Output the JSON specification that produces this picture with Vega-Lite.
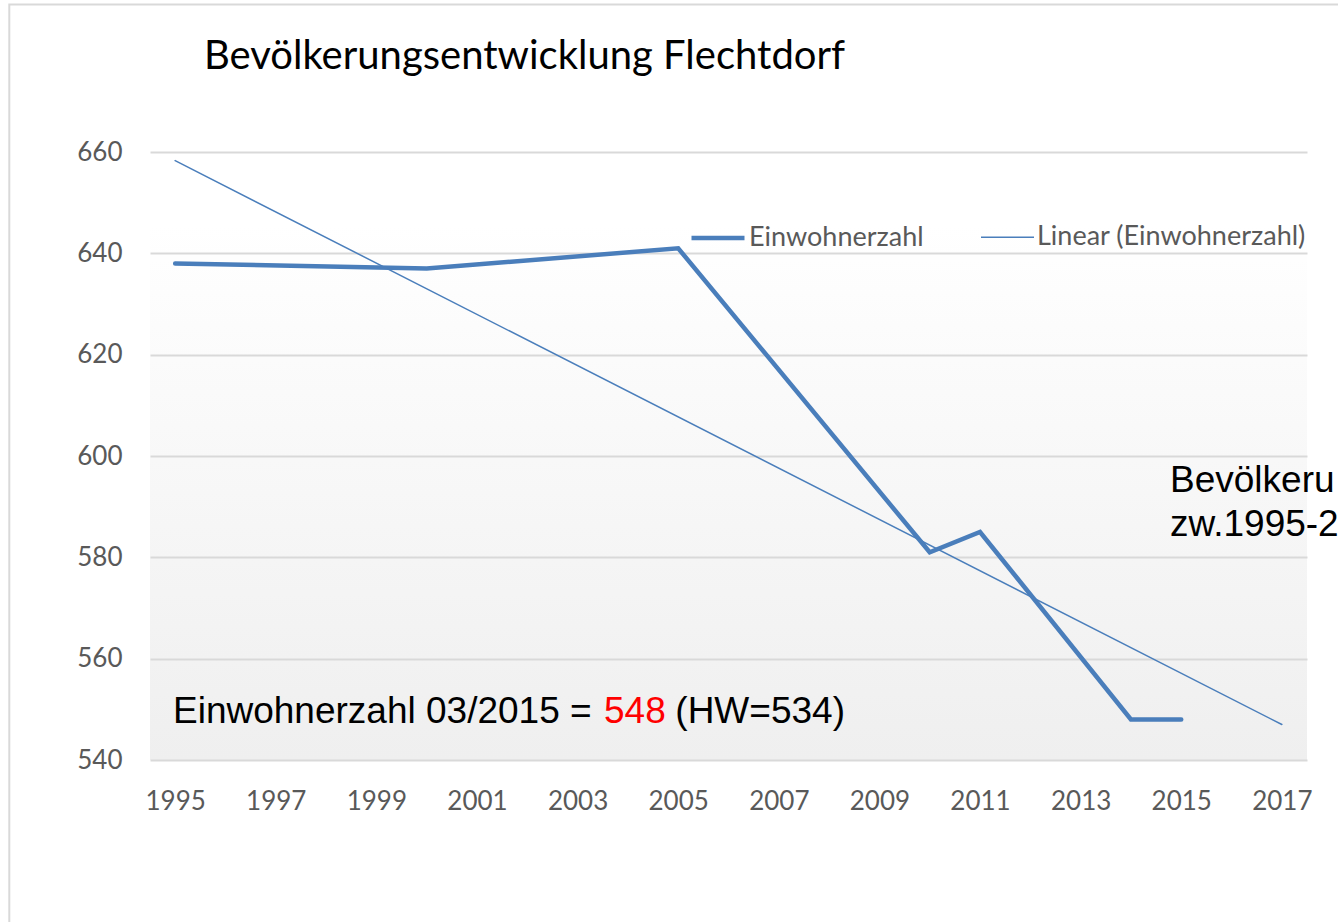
{
  "$schema": "https://vega.github.io/schema/vega-lite/v6.json",
  "width": 1157,
  "height": 608,
  "autosize": {"type": "none"},
  "padding": {"left": 150, "top": 152, "right": 31, "bottom": 162},
  "background": "#ffffff",
  "title": {
    "text": "Bevölkerungsentwicklung Flechtdorf",
    "anchor": "start",
    "frame": "group",
    "dx": 54,
    "offset": -105,
    "baseline": "alphabetic",
    "font": "Lato",
    "fontSize": 40,
    "fontWeight": "normal",
    "color": "#000000"
  },
  "config": {
    "view": {
      "stroke": null,
      "fill": {
        "gradient": "linear",
        "x1": 0, "y1": 0, "x2": 0, "y2": 1,
        "stops": [
          {"offset": 0, "color": "#ffffff"},
          {"offset": 0.12, "color": "#ffffff"},
          {"offset": 1, "color": "#efefef"}
        ]
      }
    },
    "axis": {
      "labelFont": "Lato",
      "labelFontSize": 26,
      "labelColor": "#595959",
      "domain": false,
      "ticks": false,
      "title": null
    },
    "legend": {
      "labelFont": "Lato",
      "labelFontSize": 27,
      "labelColor": "#595959",
      "labelLimit": 0
    }
  },
  "datasets": {
    "series": [
      {"year": 1995, "value": 638, "series": "Einwohnerzahl"},
      {"year": 2000, "value": 637, "series": "Einwohnerzahl"},
      {"year": 2005, "value": 641, "series": "Einwohnerzahl"},
      {"year": 2010, "value": 581, "series": "Einwohnerzahl"},
      {"year": 2011, "value": 585, "series": "Einwohnerzahl"},
      {"year": 2014, "value": 548, "series": "Einwohnerzahl"},
      {"year": 2015, "value": 548, "series": "Einwohnerzahl"},
      {"year": 1995, "value": 658.3, "series": "Linear (Einwohnerzahl)"},
      {"year": 2017, "value": 547, "series": "Linear (Einwohnerzahl)"}
    ],
    "one": [{}]
  },
  "layer": [
    {
      "data": {"name": "one"},
      "mark": {"type": "rect", "fill": null, "stroke": "#d9d9d9", "strokeWidth": 2, "clip": false},
      "encoding": {
        "x": {"datum": 1991.703, "type": "quantitative", "scale": {"domain": [1994.5, 2017.5], "nice": false, "zero": false}},
        "x2": {"datum": 2030},
        "y": {"datum": 689.1, "type": "quantitative", "scale": {"domain": [540, 660], "nice": false, "zero": false}},
        "y2": {"datum": 480}
      }
    },
    {
      "data": {"name": "series"},
      "mark": {"type": "line", "strokeCap": "round", "strokeJoin": "miter"},
      "encoding": {
        "x": {
          "field": "year", "type": "quantitative",
          "scale": {"domain": [1994.5, 2017.5], "nice": false, "zero": false},
          "axis": {"values": [1995, 1997, 1999, 2001, 2003, 2005, 2007, 2009, 2011, 2013, 2015, 2017], "format": "d", "grid": false, "labelPadding": 28}
        },
        "y": {
          "field": "value", "type": "quantitative",
          "scale": {"domain": [540, 660], "nice": false, "zero": false},
          "axis": {"values": [540, 560, 580, 600, 620, 640, 660], "grid": true, "gridColor": "#d9d9d9", "gridWidth": 2, "labelPadding": 28}
        },
        "detail": {"field": "series"},
        "color": {
          "field": "series", "type": "nominal",
          "scale": {"domain": ["Einwohnerzahl", "Linear (Einwohnerzahl)"], "range": ["#4a7ebb", "#4a7ebb"]},
          "legend": {
            "orient": "none", "legendX": 539, "legendY": 57, "direction": "horizontal",
            "title": null, "symbolType": "stroke", "symbolSize": 2809,
            "labelOffset": 2, "columnPadding": 54
          }
        },
        "strokeWidth": {
          "field": "series", "type": "nominal",
          "scale": {"domain": ["Einwohnerzahl", "Linear (Einwohnerzahl)"], "range": [4.5, 1.5]},
          "legend": {
            "orient": "none", "legendX": 539, "legendY": 57, "direction": "horizontal",
            "title": null, "symbolType": "stroke", "symbolSize": 2809,
            "labelOffset": 2, "columnPadding": 54
          }
        }
      }
    },
    {
      "data": {"name": "one"},
      "mark": {"type": "text", "text": "Einwohnerzahl 03/2015 =", "align": "left", "baseline": "alphabetic", "font": "Liberation Sans", "fontSize": 37, "color": "#000000"},
      "encoding": {"x": {"datum": 1994.957, "type": "quantitative"}, "y": {"datum": 547.4, "type": "quantitative"}}
    },
    {
      "data": {"name": "one"},
      "mark": {"type": "text", "text": "548", "align": "left", "baseline": "alphabetic", "font": "Liberation Sans", "fontSize": 37, "color": "#ff0000"},
      "encoding": {"x": {"datum": 2003.525, "type": "quantitative"}, "y": {"datum": 547.4, "type": "quantitative"}}
    },
    {
      "data": {"name": "one"},
      "mark": {"type": "text", "text": "(HW=534)", "align": "left", "baseline": "alphabetic", "font": "Liberation Sans", "fontSize": 37, "color": "#000000"},
      "encoding": {"x": {"datum": 2004.943, "type": "quantitative"}, "y": {"datum": 547.4, "type": "quantitative"}}
    },
    {
      "data": {"name": "one"},
      "mark": {"type": "text", "text": ["Bevölkeru", "zw.1995-2"], "lineHeight": 44, "align": "left", "baseline": "alphabetic", "font": "Liberation Sans", "fontSize": 37, "color": "#000000", "clip": false},
      "encoding": {"x": {"datum": 2014.777, "type": "quantitative"}, "y": {"datum": 592.8, "type": "quantitative"}}
    }
  ]
}
